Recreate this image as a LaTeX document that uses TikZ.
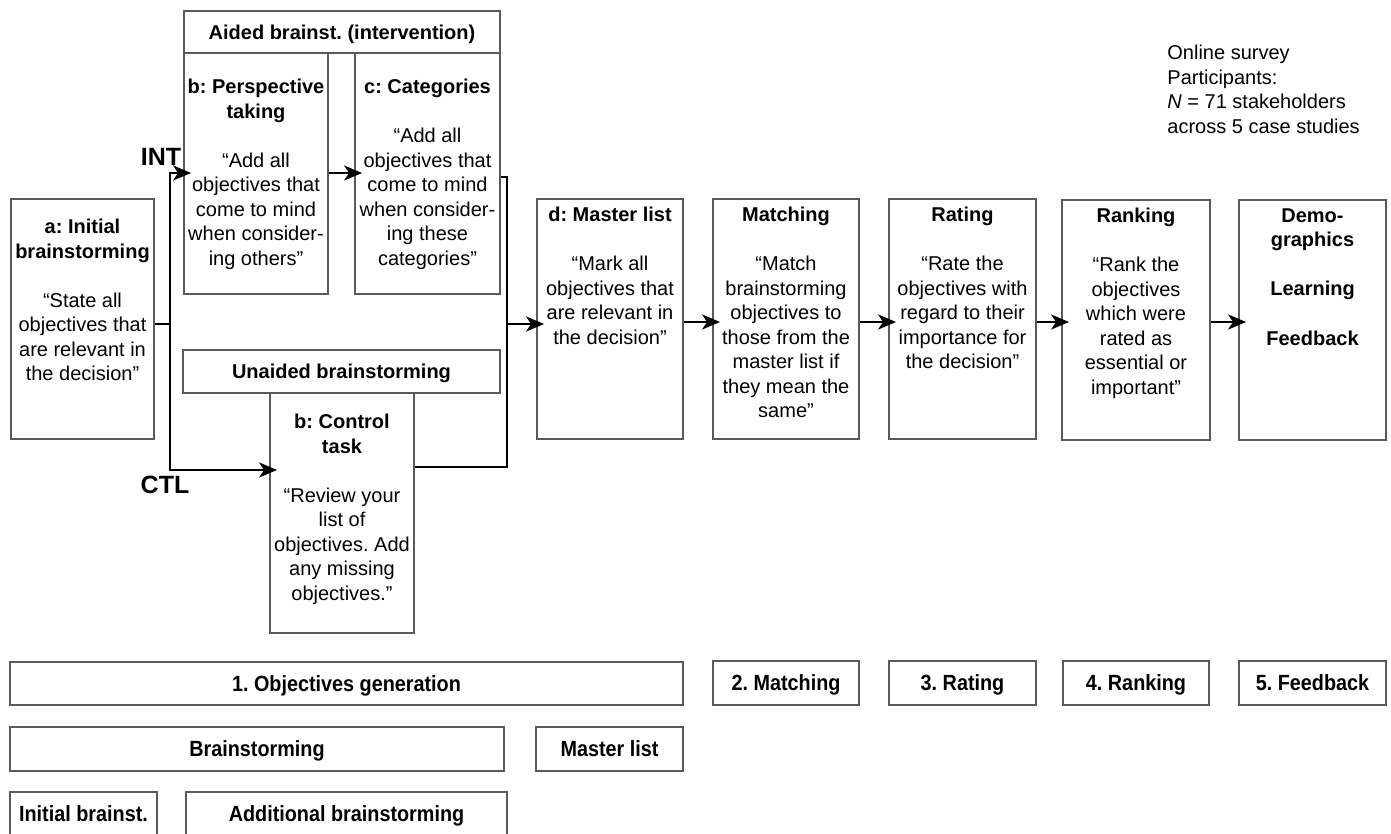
\documentclass[tikz,border=0pt]{standalone}
\usepackage{fontspec}
\setmainfont{Liberation Sans}
\newfontfamily\narrowsans[FakeStretch=0.9]{Liberation Sans}
\usetikzlibrary{arrows.meta,fit,calc}

\definecolor{boxgray}{RGB}{90,90,90}
\tikzset{
  panel/.style={draw=boxgray, line width=0.9pt, inner sep=0pt},
  body/.style={font=\fontsize{10}{12.25}\selectfont, align=center, inner sep=0pt, anchor=north},
  hdr/.style={panel, label={[font=\bfseries\fontsize{10}{12}\selectfont, inner sep=0pt,
      text height=7.2pt, text depth=0pt]center:#1}},
  phase/.style={panel, label={[font=\narrowsans\bfseries\fontsize{11}{13}\selectfont, inner sep=0pt,
      text height=7.9pt, text depth=0pt]center:#1}},
  tag/.style={font=\bfseries\fontsize{12.5}{14}\selectfont, inner sep=0pt},
  wire/.style={line width=1.2pt},
  flow/.style={wire, shorten >=-4pt, -{Stealth[length=9pt,width=7.5pt,inset=2.5pt]}}
}

\begin{document}
\frenchspacing
\begin{tikzpicture}[x=0.5pt,y=-0.5pt]
  \useasboundingbox (0,0) rectangle (1391,834);

  % survey boxes
  \node[hdr={Aided brainst. (intervention)}, fit={(184,11) (500,53)}] (aided) {};
  \node[panel, fit={(184,53) (328,294)}] (persp) {};
  \node[panel, fit={(355,53) (500,294)}] (cats) {};
  \node[panel, fit={(11,199) (154,439)}] (init) {};
  \node[hdr={Unaided brainstorming}, fit={(183,350) (500,393)}] (unaided) {};
  \node[panel, fit={(270,393) (414,633)}] (ctrl) {};
  \node[panel, fit={(537,199) (683,439)}] (master) {};
  \node[panel, fit={(713,199) (859,439)}] (match) {};
  \node[panel, fit={(889,199) (1036,439)}] (rate) {};
  \node[panel, fit={(1062,200) (1210,440)}] (rank) {};
  \node[panel, fit={(1239,200) (1386,440)}] (demo) {};

  % box texts
  \node[body] at ($(init.north)+(0,21)$) {\textbf{a: Initial}\\\textbf{brainstorming}\\[12.25pt]
    “State all\\objectives that\\are relevant in\\the decision”};
  \node[body] at ($(persp.north)+(0,27)$) {\textbf{b: Perspective}\\\textbf{taking}\\[12.25pt]
    “Add all\\objectives that\\come to mind\\when consider-\\ing others”};
  \node[body] at ($(cats.north)+(0,27)$) {\textbf{c: Categories}\\[12.25pt]
    “Add all\\objectives that\\come to mind\\when consider-\\ing these\\categories”};
  \node[body] at ($(ctrl.north)+(0,22)$) {\textbf{b: Control}\\\textbf{task}\\[12.25pt]
    “Review your\\list of\\objectives. Add\\any missing\\objectives.”};
  \node[body] at ($(master.north)+(0,9)$) {\textbf{d: Master list}\\[12.25pt]
    “Mark all\\objectives that\\are relevant in\\the decision”};
  \node[body] at ($(match.north)+(0,9)$) {\textbf{Matching}\\[12.25pt]
    “Match\\brainstorming\\objectives to\\those from the\\master list if\\they mean the\\same”};
  \node[body] at ($(rate.north)+(0,9)$) {\textbf{Rating}\\[12.25pt]
    “Rate the\\objectives with\\regard to their\\importance for\\the decision”};
  \node[body] at ($(rank.north)+(0,9)$) {\textbf{Ranking}\\[12.25pt]
    “Rank the\\objectives\\which were\\rated as\\essential or\\important”};
  \node[body, font=\bfseries\fontsize{10}{12.25}\selectfont] at ($(demo.north)+(0,9)$)
    {Demo-\\graphics\\[12.25pt]Learning\\[12.6pt]Feedback};

  \node[body, anchor=north west, align=left] (survey) at (1167,45)
    {Online survey\\Participants:\\\textit{N} = 71 stakeholders\\across 5 case studies};

  \node[tag] (int) at (161,157) {INT};
  \node[tag] (ctl) at (165,485) {CTL};

  % connectors
  \coordinate (split) at (170,324); \coordinate (intin) at (170,173); \coordinate (ctlin) at (170,470);
  \coordinate (catout) at (507,177); \coordinate (ctlout) at (507,467); \coordinate (merge) at (507,324);
  \coordinate (row) at (0,322);
  \draw[wire] (split -| init.east) -- (split);
  \draw[flow] (split) -- (intin) -- (intin -| persp.west);
  \draw[flow] (split) -- (ctlin) -- (ctlin -| ctrl.west);
  \draw[flow] (intin -| persp.east) -- (intin -| cats.west);
  \draw[wire] (catout -| cats.east) -- (catout) -- (ctlout) -- (ctlout -| ctrl.east);
  \draw[flow] (merge) -- (merge -| master.west);
  \foreach \a/\b in {master/match, match/rate, rate/rank, rank/demo}
    \draw[flow] (\a.east |- row) -- (\b.west |- row);

  % phases
  \node[phase={1. Objectives generation}, fit={(10,662) (683,705)}] (gen) {};
  \node[phase={2. Matching}, fit={(713,661) (859,705)}] (ph2) {};
  \node[phase={3. Rating}, fit={(889,661) (1036,705)}] (ph3) {};
  \node[phase={4. Ranking}, fit={(1063,661) (1209,705)}] (ph4) {};
  \node[phase={5. Feedback}, fit={(1239,661) (1386,705)}] (ph5) {};
  \node[phase={Brainstorming}, fit={(10,727) (504,771)}] (brain) {};
  \node[phase={Master list}, fit={(536,727) (683,771)}] (mlist) {};
  \node[phase={Initial brainst.}, fit={(10,792) (157,836)}] (ib) {};
  \node[phase={Additional brainstorming}, fit={(186,792) (507,836)}] (addb) {};
\end{tikzpicture}
\end{document}
